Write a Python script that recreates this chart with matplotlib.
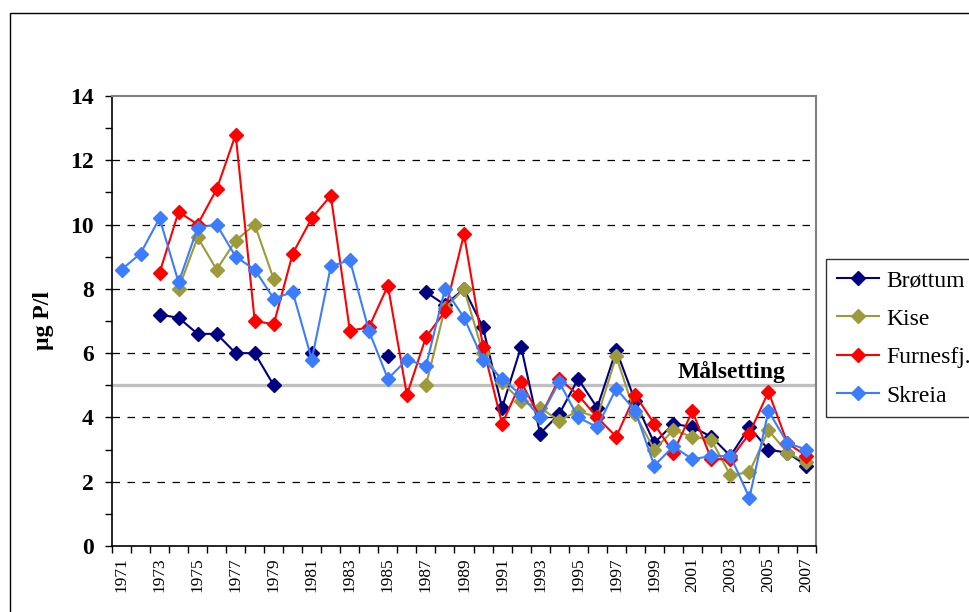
import numpy as np
import matplotlib
matplotlib.use('Agg')
import matplotlib.pyplot as plt
from matplotlib.patches import Rectangle
from matplotlib.ticker import FixedLocator, NullFormatter

plt.rcParams['font.family'] = ['Liberation Serif', 'DejaVu Serif']

nan = np.nan
years = np.arange(1971, 2008)

# Total phosphorus, µg P/l (gaps = no sampling)
brottum = [nan, nan, 7.2, 7.1, 6.6, 6.6, 6.0, 6.0, 5.0, nan, 6.0, nan, nan, nan,
           5.9, nan, 7.9, 7.5, 8.0, 6.8, 4.3, 6.2, 3.5, 4.1, 5.2, 4.3, 6.1, 4.5,
           3.2, 3.8, 3.7, 3.4, 2.8, 3.7, 3.0, 2.9, 2.5]
kise = [nan, nan, nan, 8.0, 9.6, 8.6, 9.5, 10.0, 8.3, nan, nan, nan, nan, nan,
        nan, nan, 5.0, 7.4, 8.0, 6.0, 5.1, 4.5, 4.3, 3.9, 4.2, 4.0, 5.9, 4.1,
        3.0, 3.6, 3.4, 3.3, 2.2, 2.3, 3.6, 2.9, 2.6]
furnesfj = [nan, nan, 8.5, 10.4, 10.0, 11.1, 12.8, 7.0, 6.9, 9.1, 10.2, 10.9, 6.7,
            6.8, 8.1, 4.7, 6.5, 7.3, 9.7, 6.2, 3.8, 5.1, 4.0, 5.2, 4.7, 4.0, 3.4,
            4.7, 3.8, 2.9, 4.2, 2.7, 2.7, 3.5, 4.8, 3.2, 2.8]
skreia = [8.6, 9.1, 10.2, 8.2, 9.9, 10.0, 9.0, 8.6, 7.7, 7.9, 5.8, 8.7, 8.9, 6.7,
          5.2, 5.8, 5.6, 8.0, 7.1, 5.8, 5.2, 4.7, 4.0, 5.1, 4.0, 3.7, 4.9, 4.2,
          2.5, 3.1, 2.7, 2.8, 2.8, 1.5, 4.2, 3.2, 3.0]
target = 5.0

series = [('Brøttum', brottum, '#000080'),
          ('Kise', kise, '#9C9A3A'),
          ('Furnesfj.', furnesfj, '#FF0000'),
          ('Skreia', skreia, '#3C7CFF')]

fig = plt.figure(figsize=(9.7, 6.12), dpi=100)
ax = fig.add_axes([112 / 970, 1 - 546 / 612, 704 / 970, 450 / 612])

# target line
ax.axhline(target, color='#C0C0C0', lw=2.4, zorder=2)
ax.text(2005.9, target + 0.08, 'Målsetting', ha='right', va='bottom',
        fontsize=17, fontweight='bold', zorder=3)

for name, vals, col in series:
    ax.plot(years, vals, color=col, lw=1.5, marker='D', ms=7,
            label=name, zorder=4)

ax.set_xlim(1970.5, 2007.5)
ax.set_ylim(0, 14)

# y axis
ax.set_yticks(np.arange(0, 15, 2))
ax.yaxis.set_minor_locator(FixedLocator(np.arange(1, 14, 2)))
ax.tick_params(axis='y', which='both', direction='out', length=5, width=1,
               labelsize=17, pad=8)
for lab in ax.get_yticklabels():
    lab.set_fontweight('bold')
for g in np.arange(2, 14, 2):
    ax.axhline(g, color='black', lw=0.9, dashes=(6, 6), zorder=1)

# x axis: ticks between categories, labels on every other year
ax.xaxis.set_major_locator(FixedLocator(np.arange(1970.5, 2008, 1)))
ax.xaxis.set_major_formatter(NullFormatter())
ax.set_xticks(years[::2], minor=True)
ax.set_xticklabels([str(y) for y in years[::2]], minor=True, rotation=90,
                   fontsize=12.5)
ax.tick_params(axis='x', which='major', direction='out', length=5, width=1)
ax.tick_params(axis='x', which='minor', length=0, pad=8)

ax.set_ylabel('µg P/l', fontsize=17, fontweight='bold', labelpad=12)

for s in ['left', 'bottom']:
    ax.spines[s].set_color('black')
    ax.spines[s].set_linewidth(1.2)
for s in ['top', 'right']:
    ax.spines[s].set_color('#808080')
    ax.spines[s].set_linewidth(1.5)

leg = fig.legend(loc='upper left', bbox_to_anchor=(826 / 970, 1 - 259 / 612),
                 borderaxespad=0, fontsize=17, frameon=True, fancybox=False,
                 edgecolor='black', handlelength=1.8, handletextpad=0.3,
                 labelspacing=0.72, borderpad=0.45)
leg.get_frame().set_linewidth(1)

# outer chart border
fig.add_artist(Rectangle((10 / 970, -0.1), 1.2, 1.1 - 13 / 612,
                         transform=fig.transFigure, fill=False,
                         edgecolor='black', lw=1))

fig.savefig('out.png', dpi=100)
